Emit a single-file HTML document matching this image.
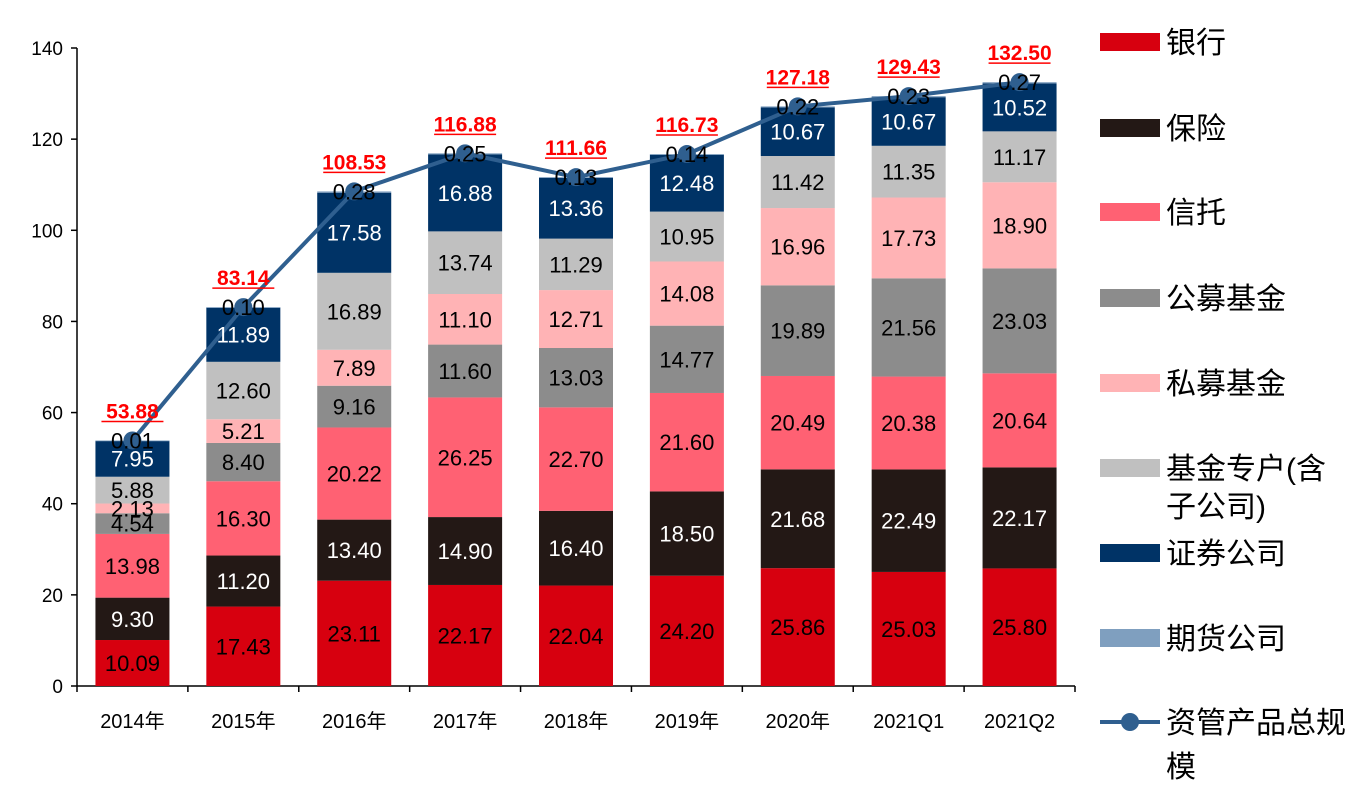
<!DOCTYPE html>
<html><head><meta charset="utf-8"><style>
body{margin:0;background:#fff;width:1365px;height:789px;overflow:hidden;font-family:"Liberation Sans","Noto Sans CJK SC",sans-serif}
</style></head><body>
<svg id="chart" width="1365" height="789" xmlns="http://www.w3.org/2000/svg" font-family="Liberation Sans, Noto Sans CJK SC, sans-serif"></svg>
<script>
const categories=["2014年","2015年","2016年","2017年","2018年","2019年","2020年","2021Q1","2021Q2"];
const bank=[10.09,17.43,23.11,22.17,22.04,24.20,25.86,25.03,25.80];
const insurance=[9.30,11.20,13.40,14.90,16.40,18.50,21.68,22.49,22.17];
const trust=[13.98,16.30,20.22,26.25,22.70,21.60,20.49,20.38,20.64];
const publicFund=[4.54,8.40,9.16,11.60,13.03,14.77,19.89,21.56,23.03];
const privateFund=[2.13,5.21,7.89,11.10,12.71,14.08,16.96,17.73,18.90];
const specialAccount=[5.88,12.60,16.89,13.74,11.29,10.95,11.42,11.35,11.17];
const securities=[7.95,11.89,17.58,16.88,13.36,12.48,10.67,10.67,10.52];
const futures=[0.01,0.10,0.28,0.25,0.13,0.14,0.22,0.23,0.27];
const total=[53.88,83.14,108.53,116.88,111.66,116.73,127.18,129.43,132.50];
const yTicks=[0,20,40,60,80,100,120,140];
const seriesNames=["银行","保险","信托","公募基金","私募基金","基金专户(含子公司)","证券公司","期货公司"];

const svg=document.getElementById('chart');
const NS="http://www.w3.org/2000/svg";
function mk(t,a,p){const e=document.createElementNS(NS,t);for(const k in a)e.setAttribute(k,a[k]);(p||svg).appendChild(e);return e;}
const x0=77,x1=1075,y0=686,yTop=48,yMax=140;
const y=v=>y0-(v/yMax)*(y0-yTop);
const step=(x1-x0)/categories.length;
const xc=i=>x0+step*(i+0.5);
const bw=74;
const series=[
 {d:bank,c:"#d7000f",tc:"#000",k:"bank"},
 {d:insurance,c:"#231815",tc:"#fff",k:"insurance"},
 {d:trust,c:"#ff6173",tc:"#000",k:"trust"},
 {d:publicFund,c:"#8c8c8c",tc:"#000",k:"public-fund"},
 {d:privateFund,c:"#ffb3b5",tc:"#000",k:"private-fund"},
 {d:specialAccount,c:"#c0c0c0",tc:"#000",k:"special-account"},
 {d:securities,c:"#003366",tc:"#fff",k:"securities"},
 {d:futures,c:"#7f9fbf",tc:"#000",k:"futures"}];

let ax=mk('line',{x1:x0,y1:y0,x2:x1,y2:y0,stroke:"#000","stroke-width":1.5});

let ay=mk('line',{x1:x0,y1:yTop,x2:x0,y2:y0,stroke:"#000","stroke-width":1.5});

yTicks.forEach(t=>{
 mk('line',{x1:x0-6,y1:y(t),x2:x0,y2:y(t),stroke:"#000","stroke-width":1.5});
 const tx=mk('text',{x:x0-14,y:y(t)+7,"text-anchor":"end","font-size":19});tx.textContent=t;
 
});
for(let i=0;i<=categories.length;i++){mk('line',{x1:x0+step*i,y1:y0,x2:x0+step*i,y2:y0+6,stroke:"#000","stroke-width":1.5});}
categories.forEach((c,i)=>{
 const tx=mk('text',{x:xc(i),y:728,"text-anchor":"middle","font-size":20});tx.textContent=c;
 
});
const labels=[];
categories.forEach((c,i)=>{
 let cum=0;
 series.forEach((s,si)=>{
  const v=s.d[i];const yb=y(cum),yt=y(cum+v);
  const r=mk('rect',{x:xc(i)-bw/2,y:yt,width:bw,height:Math.max(yb-yt,0.8),fill:s.c});
  
  let ly=(yb+yt)/2+8;
  if(si===7) ly=yt+8;
  labels.push({x:xc(i),y:ly,c:s.tc,t:v.toFixed(2)});
  cum+=v;
 });
});
let pts=total.map((v,i)=>xc(i)+","+y(v)).join(" ");
const pl=mk('polyline',{points:pts,fill:"none",stroke:"#2f5f8f","stroke-width":4});

total.forEach((v,i)=>{
 const cc=mk('circle',{cx:xc(i),cy:y(v),r:9,fill:"#2f5f8f"});
 
 const tx=mk('text',{x:xc(i),y:y(v)-22,"text-anchor":"middle","font-size":21,"font-weight":"bold",fill:"#ff0000"});tx.textContent=v.toFixed(2);
 
 mk('line',{x1:xc(i)-31,y1:y(v)-19,x2:xc(i)+31,y2:y(v)-19,stroke:"#ff0000","stroke-width":1.5});
});
labels.forEach(l=>{
 const tx=mk('text',{x:l.x,y:l.y,"text-anchor":"middle","font-size":22,fill:l.c});tx.textContent=l.t;
 
});
const ly=[42,128,212,298,383,468,553,638];
series.forEach((s,si)=>{
 const r=mk('rect',{x:1100,y:ly[si]-9,width:60,height:18,fill:s.c});
 
 const tx=mk('text',{x:1166,y:ly[si]+11,"font-size":30});
 if(si===5){tx.textContent="基金专户(含";const t2=mk('text',{x:1166,y:ly[si]+49,"font-size":30});t2.textContent="子公司)";}
 else tx.textContent=seriesNames[si];
 
});
mk('line',{x1:1100,y1:722,x2:1160,y2:722,stroke:"#2f5f8f","stroke-width":4});
mk('circle',{cx:1130,cy:722,r:9,fill:"#2f5f8f"});
let t=mk('text',{x:1166,y:733,"font-size":30});t.textContent="资管产品总规";

t=mk('text',{x:1166,y:777,"font-size":30});t.textContent="模";

</script>
</body></html>
